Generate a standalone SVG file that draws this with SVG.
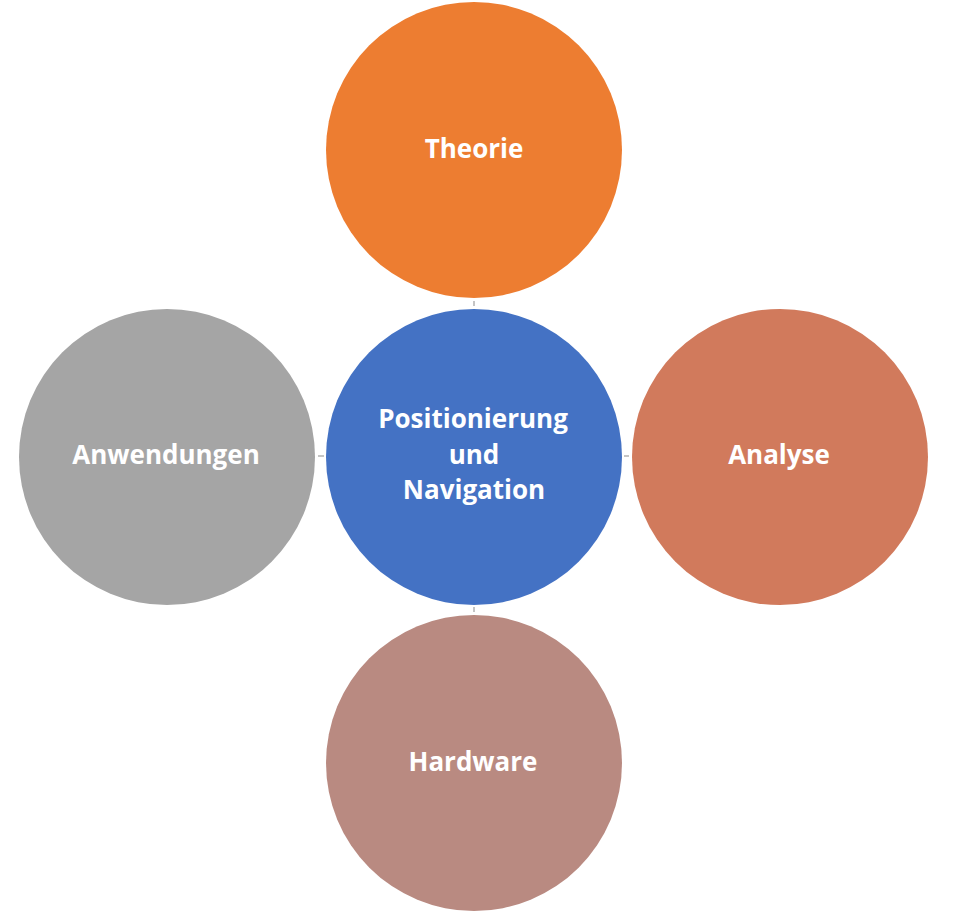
<svg xmlns="http://www.w3.org/2000/svg" width="956" height="914" viewBox="0 0 956 914">
<style>
.lbl{font-family:"Open Sans","Liberation Sans",sans-serif;font-weight:bold;font-size:26px;fill:#FFFFFF;text-anchor:middle}
.con{stroke:#9E9E9E;stroke-width:1.2;fill:none}
</style>
<rect width="956" height="914" fill="#FFFFFF"/>
<g id="connectors">
<line class="con" x1="474" y1="301" x2="474" y2="306"/>
<line class="con" x1="318" y1="456" x2="324" y2="456"/>
<line class="con" x1="624" y1="456" x2="629" y2="456"/>
<line class="con" x1="474" y1="607" x2="474" y2="612"/>
</g>
<g id="theorie">
<circle cx="474" cy="150" r="148" fill="#ED7D31"/>
<text class="lbl" x="474" y="158">Theorie</text>
</g>
<g id="center">
<circle cx="474" cy="457" r="148" fill="#4472C4"/>
<text class="lbl" x="473" y="428">Positionierung</text>
<text class="lbl" x="474" y="464">und</text>
<text class="lbl" x="474" y="499">Navigation</text>
</g>
<g id="analyse">
<circle cx="780" cy="457" r="148" fill="#D17A5C"/>
<text class="lbl" x="779" y="464">Analyse</text>
</g>
<g id="anwendungen">
<circle cx="167" cy="457" r="148" fill="#A5A5A5"/>
<text class="lbl" x="166" y="464">Anwendungen</text>
</g>
<g id="hardware">
<circle cx="474" cy="763" r="148" fill="#B98A81"/>
<text class="lbl" x="473" y="771">Hardware</text>
</g>
</svg>
